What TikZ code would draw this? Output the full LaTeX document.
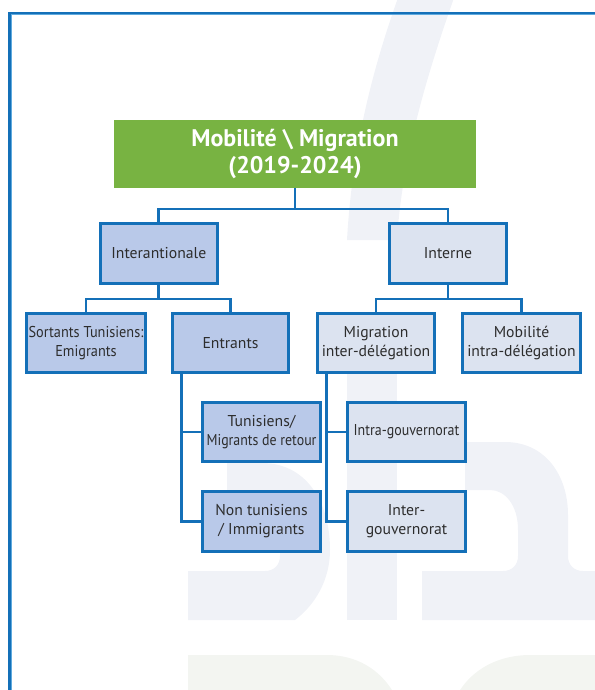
\documentclass[tikz,border=0pt]{standalone}
\usepackage{fontspec}
\setmainfont{PT Sans}
\usetikzlibrary{calc}
\definecolor{bluedark}{RGB}{20,112,184}
\definecolor{framelight}{RGB}{95,170,222}
\definecolor{greenbox}{RGB}{120,179,66}
\definecolor{fillA}{RGB}{185,201,233}
\definecolor{fillB}{RGB}{220,227,240}
\definecolor{txt}{RGB}{45,45,45}
\definecolor{wmblue}{RGB}{240,242,247}
\definecolor{wmgreen}{RGB}{243,245,241}
\newcommand{\sqz}[2]{\scalebox{#1}[1]{#2}}
\begin{document}
\begin{tikzpicture}[x=1pt,y=-1pt,
  boxA/.style={draw=bluedark, line width=3pt, fill=fillA, text=txt, inner sep=0pt,
    align=center, font=\fontsize{15.7}{19}\selectfont},
  boxB/.style={boxA, fill=fillB},
  titlebox/.style={fill=greenbox, text=white, inner sep=0pt, align=center,
    minimum width=362pt, minimum height=68pt, font=\fontsize{24}{27}\selectfont\bfseries},
  link/.style={draw=bluedark, line width=2.8pt},
  wma/.style={fill=wmblue},
  wmb/.style={fill=wmgreen}]
\useasboundingbox (0,0) rectangle (594,690);
% watermark
\fill[wma] (397,-5) -- (455,-5) .. controls (425,80) and (402,160) .. (397,240)
  -- (347,240) .. controls (352,150) and (372,70) .. (399,-5) -- cycle;
\fill[wma] (347,330) rectangle (397,620);
\fill[wma] (227,463) -- (262,463) .. controls (305,463) and (330,500) .. (330,550)
  .. controls (330,580) and (315,605) .. (295,620) -- (188,620) -- (188,571) -- (265,571)
  .. controls (274,571) and (280,565) .. (280,556) -- (280,540)
  .. controls (280,522) and (272,511) .. (258,511) -- (227,511) -- cycle;
\fill[wma] (465,442) -- (505,442) .. controls (545,442) and (568,475) .. (568,515)
  -- (568,556) .. controls (568,565) and (574,571) .. (583,571) -- (600,571) -- (600,620)
  -- (422,620) -- (422,571) -- (503,571) .. controls (512,571) and (518,565) .. (518,556)
  -- (518,530) .. controls (518,505) and (505,490) .. (490,490) -- (465,490) -- cycle;
\fill[wmb] (188,655) -- (327,655) .. controls (355,655) and (380,668) .. (395,695)
  -- (188,695) -- cycle;
\fill[wmb] (457,695) .. controls (472,668) and (500,655) .. (530,655) -- (600,655)
  -- (600,695) -- cycle;
% frame
\draw[bluedark, line width=2.4pt] (600,12.8) -- (9.3,12.8) -- (9.3,700);
\draw[framelight, line width=1pt] (600,14.9) -- (11.4,14.9) -- (11.4,700);
% nodes
\node[titlebox] (title) at (295,154) {Mobilité \textbackslash{} Migration\\(2019-2024)};
\node[boxA, minimum width=117pt, minimum height=60pt] (intl) at (158.8,253.5) {Interantionale};
\node[boxB, minimum width=117pt, minimum height=60pt] (interne) at (448,253.5) {Interne};
\node[boxA, minimum width=119pt, minimum height=59pt] (sortants) at (86,343) {\sqz{0.91}{Sortants Tunisiens:}\\\sqz{0.91}{Emigrants}};
\node[boxA, minimum width=116pt, minimum height=59pt] (entrants) at (230.5,343) {Entrants};
\node[boxB, minimum width=117pt, minimum height=59pt] (miginter) at (376,343) {Migration\\inter-délégation};
\node[boxB, minimum width=118pt, minimum height=59pt] (mobintra) at (521.5,343) {Mobilité\\intra-délégation};
\node[boxA, minimum width=118pt, minimum height=59pt] (tunisiens) at (261.5,432) {Tunisiens/\\\sqz{0.885}{Migrants de retour}};
\node[boxA, minimum width=118pt, minimum height=60pt] (nontun) at (261.5,521.5) {Non tunisiens\\/ Immigrants};
\node[boxB, minimum width=118pt, minimum height=59pt] (intragouv) at (406.5,432) {\sqz{0.89}{Intra-gouvernorat}};
\node[boxB, minimum width=118pt, minimum height=60pt] (intergouv) at (406.5,521.5) {Inter-\\gouvernorat};
% connectors
\draw[link] (title.south) -- ([yshift=13pt]title.south |- intl.north);
\draw[link] (intl.north) -- ++(0,-13) -| (interne.north);
\draw[link] (intl.south) -- ++(0,14) coordinate (b2) -| (sortants.north);
\draw[link] (b2) -| (entrants.north);
\draw[link] (interne.south) -- ++(0,14) coordinate (b3) -| (miginter.north);
\draw[link] (b3) -| (mobintra.north);
\draw[link] ([xshift=10.5pt]entrants.south west) |- (tunisiens.west);
\draw[link] ([xshift=10.5pt]entrants.south west) |- (nontun.west);
\draw[link] ([xshift=10.5pt]miginter.south west) |- (intragouv.west);
\draw[link] ([xshift=10.5pt]miginter.south west) |- (intergouv.west);
\end{tikzpicture}
\end{document}
